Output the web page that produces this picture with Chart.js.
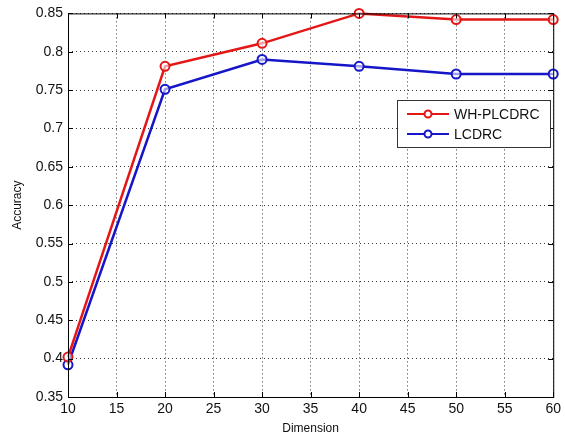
<!DOCTYPE html>
<html>
<head>
<meta charset="utf-8">
<script src="https://cdn.jsdelivr.net/npm/chart.js@4/dist/chart.umd.min.js"></script>
<style>
  html, body { margin: 0; padding: 0; background: #fff; }
  #wrap { width: 565px; height: 440px; }
</style>
</head>
<body>
<div id="wrap"><canvas id="dimensions" width="565" height="440"></canvas></div>
<script>
const dimensions = [10, 20, 30, 40, 50, 60];
const whPlcdrc = [0.402, 0.781, 0.811, 0.85, 0.842, 0.842];
const lcdrc = [0.392, 0.751, 0.79, 0.781, 0.771, 0.771];
const seriesNames = ["WH-PLCDRC", "LCDRC"];

const FONT = "'Liberation Sans', Arial, sans-serif";
const RED = "rgb(228,22,22)";
const BLUE = "rgb(22,22,200)";

// matlab style box, inward ticks and legend
const matlabFrame = {
  id: "matlabFrame",
  afterDraw(chart) {
    const { ctx, chartArea: a, scales } = chart;
    ctx.save();
    ctx.strokeStyle = "#000";
    ctx.lineWidth = 1;
    ctx.setLineDash([]);
    ctx.strokeRect(a.left + 0.5, a.top + 0.5, a.right - a.left, a.bottom - a.top);
    ctx.beginPath();
    scales.x.ticks.forEach((t) => {
      const px = Math.round(scales.x.getPixelForValue(t.value)) + 0.5;
      ctx.moveTo(px, a.bottom); ctx.lineTo(px, a.bottom - 5);
      ctx.moveTo(px, a.top); ctx.lineTo(px, a.top + 5);
    });
    scales.y.ticks.forEach((t) => {
      const py = Math.round(scales.y.getPixelForValue(t.value)) + 0.5;
      ctx.moveTo(a.left, py); ctx.lineTo(a.left + 5, py);
      ctx.moveTo(a.right, py); ctx.lineTo(a.right - 5, py);
    });
    ctx.stroke();

    // legend
    const lx = 397, ly = 100, lw = 153, lh = 47;
    ctx.fillStyle = "#fff";
    ctx.fillRect(lx, ly, lw, lh);
    ctx.strokeStyle = "#333";
    ctx.strokeRect(lx + 0.5, ly + 0.5, lw, lh);
    chart.data.datasets.forEach((ds, i) => {
      const y = ly + 14 + i * 20;
      ctx.strokeStyle = ds.borderColor;
      ctx.lineWidth = 2;
      ctx.beginPath();
      ctx.moveTo(lx + 10, y); ctx.lineTo(lx + 52, y);
      ctx.stroke();
      ctx.beginPath();
      ctx.arc(lx + 31, y, 3.5, 0, Math.PI * 2);
      ctx.fillStyle = "#fff";
      ctx.fill();
      ctx.stroke();
      ctx.fillStyle = "#111";
      ctx.font = "14px " + FONT;
      ctx.textBaseline = "middle";
      ctx.fillText(ds.label, lx + 57, y + 1);
    });
    ctx.restore();
  },
};

const chart = new Chart(document.getElementById("dimensions").getContext("2d"), {
  type: "line",
  data: {
    labels: dimensions,
    datasets: [
      {
        label: seriesNames[0],
        data: dimensions.map((d, i) => ({ x: d, y: whPlcdrc[i] })),
        borderColor: RED,
        backgroundColor: "#fff",
        borderWidth: 2.5,
        pointRadius: 4.5,
        pointBorderWidth: 2,
        pointBackgroundColor: "rgba(255,255,255,0.6)",
        clip: false,
      },
      {
        label: seriesNames[1],
        data: dimensions.map((d, i) => ({ x: d, y: lcdrc[i] })),
        borderColor: BLUE,
        backgroundColor: "#fff",
        borderWidth: 2.5,
        pointRadius: 4.5,
        pointBorderWidth: 2,
        pointBackgroundColor: "rgba(255,255,255,0.6)",
        clip: false,
      },
    ],
  },
  options: {
    responsive: false,
    animation: false,
    layout: { padding: { left: 0, top: 13, right: 11, bottom: 0 } },
    plugins: { legend: { display: false }, tooltip: { enabled: false } },
    scales: {
      x: {
        type: "linear",
        min: 10,
        max: 60,
        ticks: { stepSize: 5, color: "#111", font: { family: FONT, size: 14 }, padding: 4 },
        grid: { color: "#333", drawTicks: false },
        border: { display: false, dash: [1, 3] },
        title: { display: true, text: "Dimension", color: "#111", font: { family: FONT, size: 12 }, padding: { top: 1 } },
        afterFit(scale) { scale.height = 43; },
      },
      y: {
        min: 0.35,
        max: 0.85,
        ticks: {
          stepSize: 0.05,
          color: "#111",
          font: { family: FONT, size: 14 },
          padding: 5,
          callback: (v) => String(parseFloat(v.toFixed(2))),
        },
        grid: { color: "#333", drawTicks: false },
        border: { display: false, dash: [1, 3] },
        title: { display: true, text: "Accuracy", color: "#111", font: { family: FONT, size: 12 }, padding: { top: 10, bottom: 4 } },
        afterFit(scale) { scale.width = 68; },
      },
    },
  },
  plugins: [matlabFrame],
});
</script>
</body>
</html>
